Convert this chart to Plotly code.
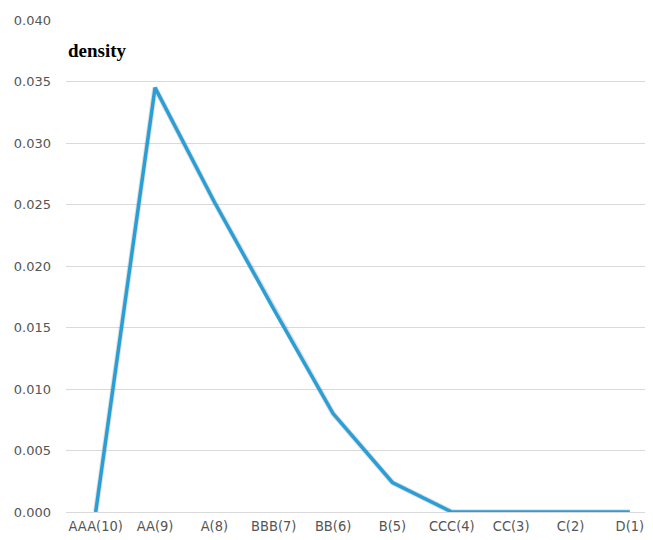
import plotly.graph_objects as go

categories = ["AAA(10)", "AA(9)", "A(8)", "BBB(7)", "BB(6)", "B(5)", "CCC(4)", "CC(3)", "C(2)", "D(1)"]
density = [0.0, 0.0345, 0.0252, 0.0165, 0.0080, 0.0024, 0.0, 0.0, 0.0, 0.0]
y_ticks = [0.000, 0.005, 0.010, 0.015, 0.020, 0.025, 0.030, 0.035, 0.040]

fig = go.Figure()
fig.add_trace(go.Scatter(
    x=categories, y=density, mode="lines",
    line=dict(color="rgba(0,0,0,0.12)", width=5.5),
    cliponaxis=False, hoverinfo="skip",
))
fig.add_trace(go.Scatter(
    x=categories, y=density, mode="lines",
    line=dict(color="#2a9fd6", width=3.5),
    cliponaxis=False, hoverinfo="x+y",
))

fig.update_layout(
    width=645, height=532,
    margin=dict(l=58, r=0, t=12, b=28),
    paper_bgcolor="white", plot_bgcolor="white",
    showlegend=False,
    xaxis=dict(
        type="category", range=[-0.5, 9.39],
        showgrid=False, zeroline=False, showline=False,
        tickfont=dict(family="DejaVu Sans Condensed, Liberation Sans Narrow, DejaVu Sans", size=14.5, color="#555555"),
        ticks="", ticklabelstandoff=3,
    ),
    yaxis=dict(
        range=[0, 0.040], tickvals=y_ticks, tickformat=".3f",
        showgrid=True, gridcolor="#d9d9d9", gridwidth=1,
        zeroline=True, zerolinecolor="#d9d9d9", zerolinewidth=1,
        showline=False, ticks="",
        tickfont=dict(family="DejaVu Sans", size=13, color="#555555"),
        ticklabelstandoff=14,
    ),
    annotations=[dict(
        text="<b>density</b>", xref="paper", yref="paper", x=0, y=0.937,
        xanchor="left", yanchor="middle", showarrow=False,
        font=dict(family="Liberation Serif, DejaVu Serif", size=19, color="#000000"),
    )],
)

fig.write_html("out.html")
